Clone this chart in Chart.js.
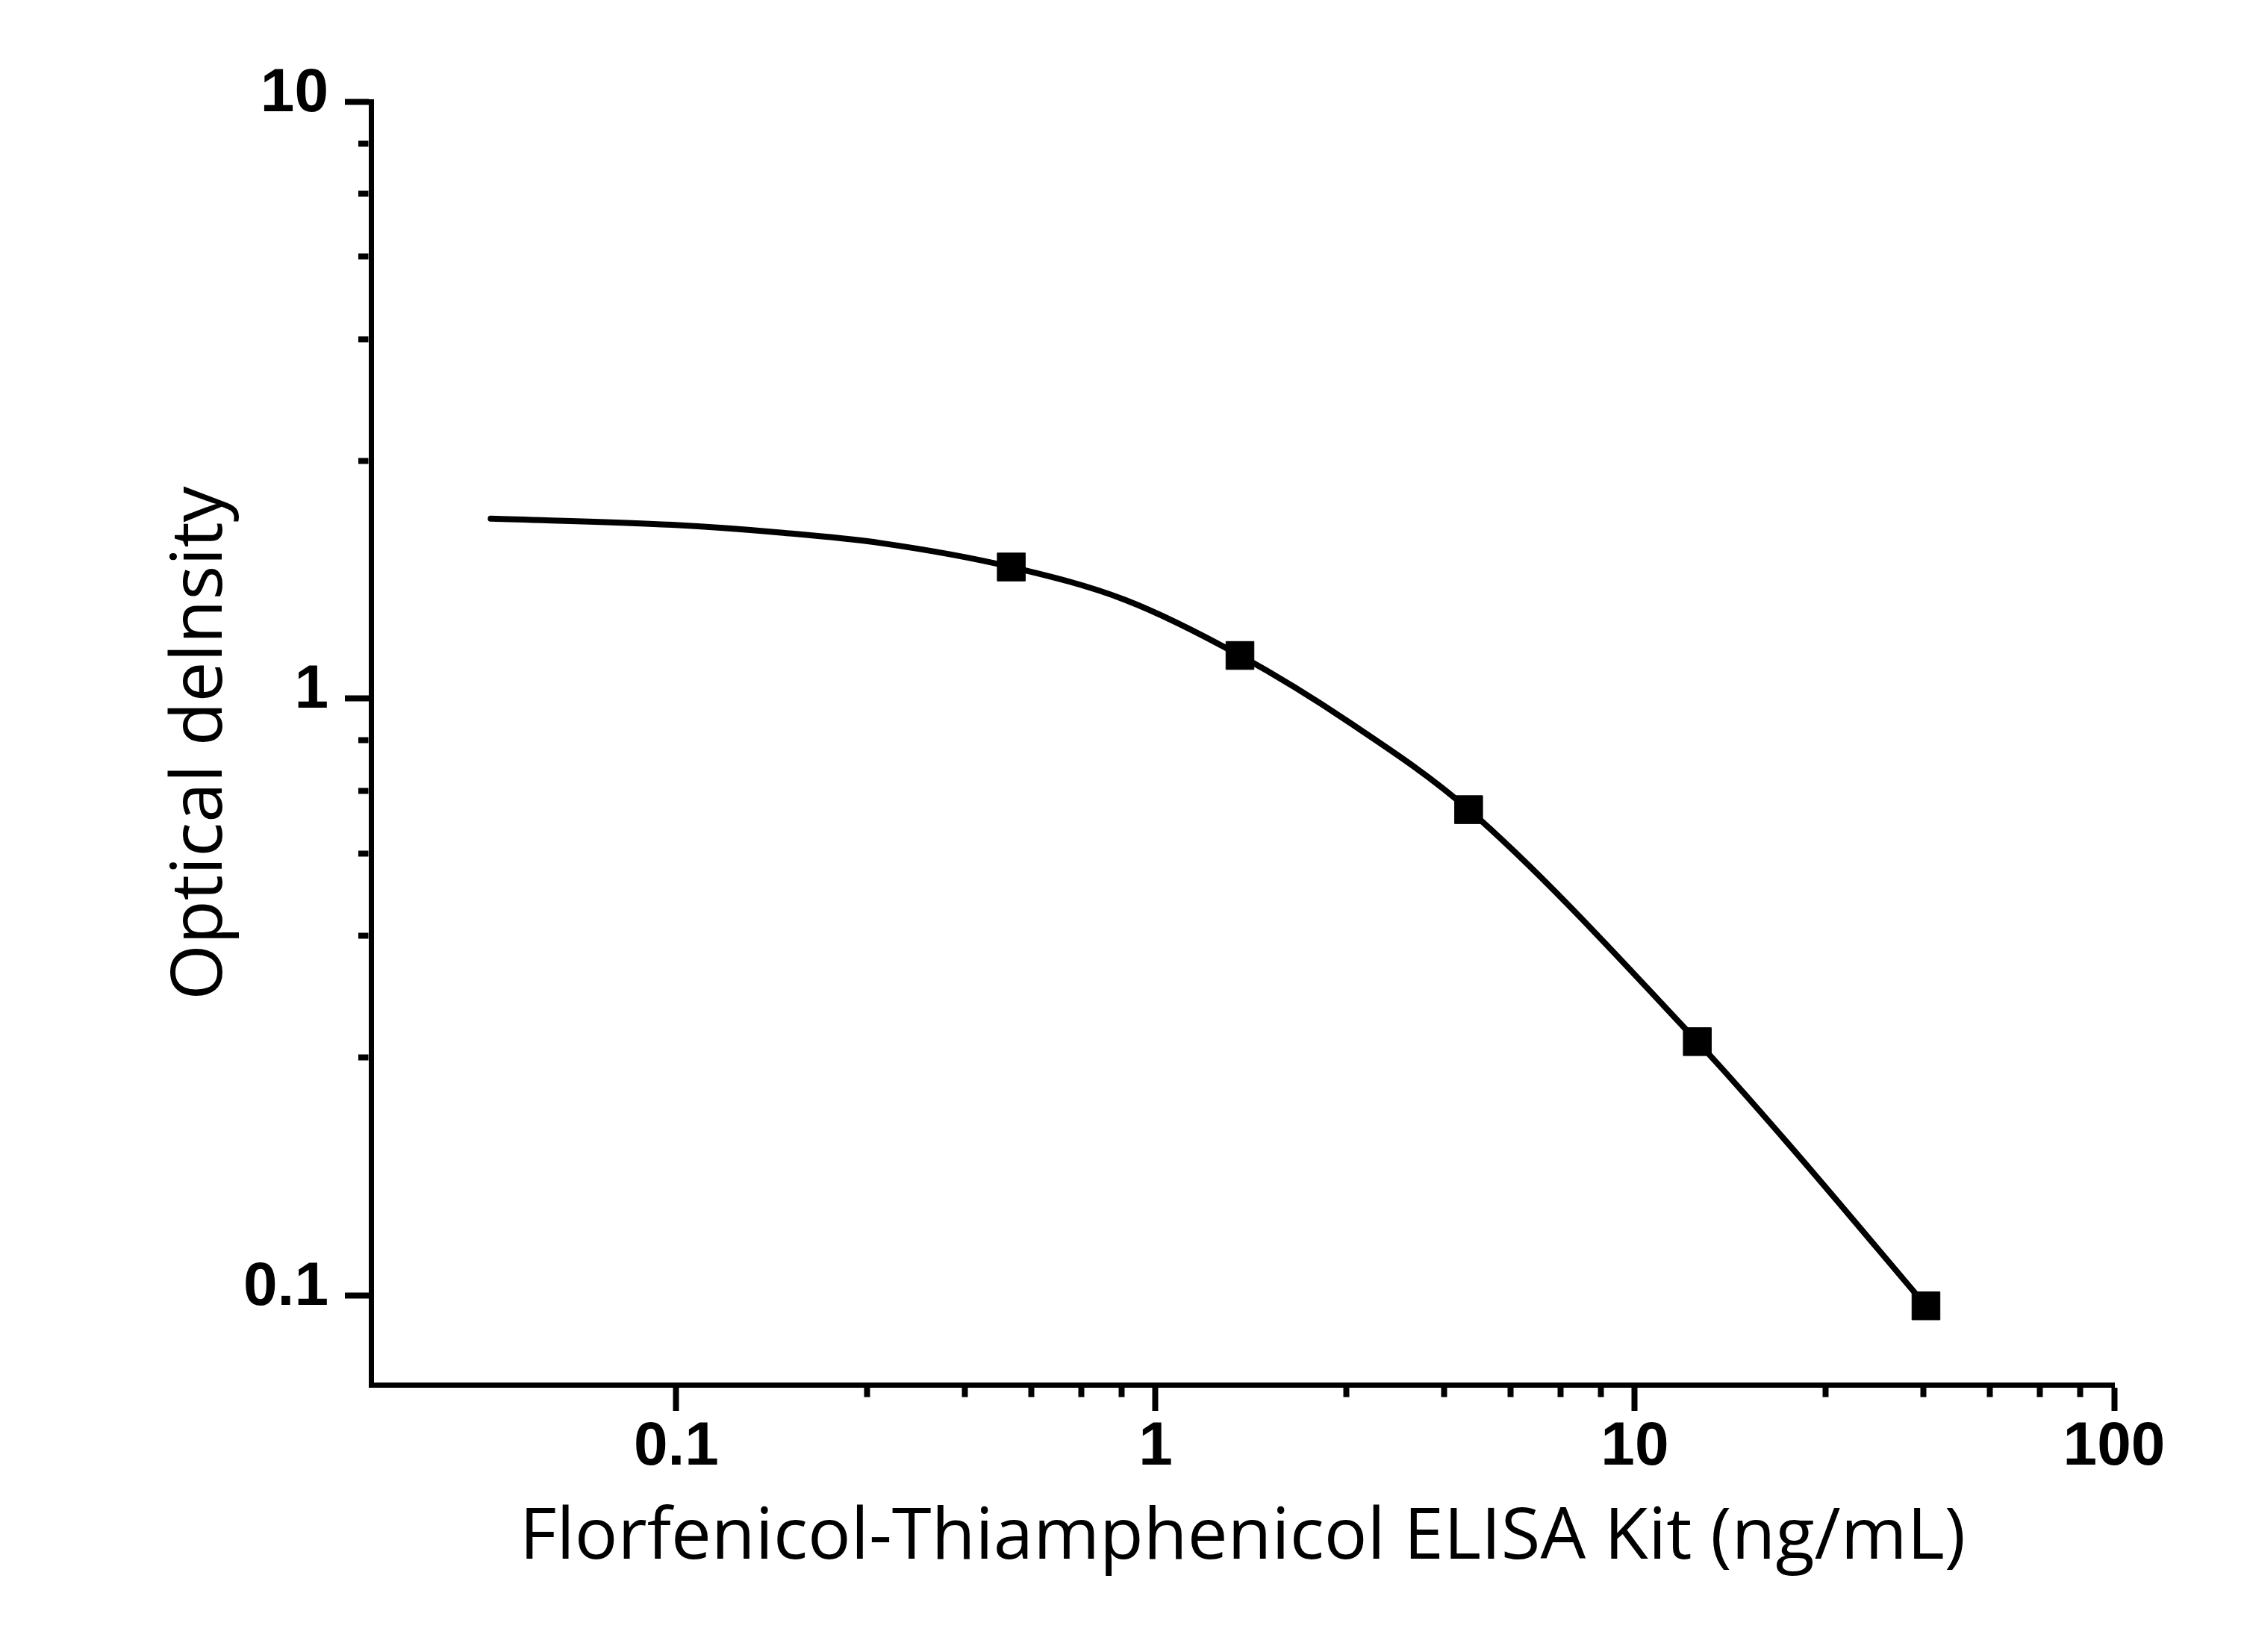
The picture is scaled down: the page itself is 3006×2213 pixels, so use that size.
<!DOCTYPE html>
<html lang="en">
<head>
  <meta charset="UTF-8">
  <title>Florfenicol-Thiamphenicol ELISA Kit standard curve</title>
  <script src="https://cdn.jsdelivr.net/npm/chart.js"></script>
  <style>
    html, body {
      margin: 0;
      padding: 0;
      background: #ffffff;
      overflow: hidden;
    }
    .container {
      width: 3006px;
      height: 2213px;
    }
  </style>
</head>
<body>
  <div class="container">
    <canvas id="curveChart"></canvas>
  </div>

  <script>
    // standards (ng/mL) and measured OD
    const concentrations = [0.5, 1.5, 4.5, 13.5, 40.5];
    const odValues = [1.66, 1.18, 0.651, 0.266, 0.096];

    // fitted curve
    const fitX = [0.041, 0.098, 0.167, 0.268, 0.5, 0.865, 1.5, 2.55, 4.5, 13.5, 20.7, 40.5];
    const fitY = [2.00, 1.953, 1.894, 1.82, 1.66, 1.462, 1.18, 0.909, 0.651, 0.266, 0.181, 0.096];

    const xDecades = [0.1, 1, 10, 100];
    const yDecades = [0.1, 1, 10];
    const minorSteps = [2.5, 4, 5.5, 7, 8.5];

    const xTitle = 'Florfenicol-Thiamphenicol ELISA Kit (ng/mL)';
    const yTitle = 'Optical delnsity';

    function isMajor(v) {
      const l = Math.log10(v);
      return Math.abs(l - Math.round(l)) < 1e-6;
    }

    function logTicks(decades) {
      let ticks = [];
      for (let i = 0; i < decades.length; i++) {
        ticks.push({ value: decades[i] });
        if (i < decades.length - 1) {
          minorSteps.forEach(s => ticks.push({ value: decades[i] * s }));
        }
      }
      return ticks;
    }

    const labelFont = { family: '"Liberation Sans", Arial, sans-serif', weight: 'bold', size: 82 };
    const titleFont = { family: '"Open Sans", sans-serif', size: 96, lineHeight: 1.2 };

    const ctx = document.getElementById('curveChart').getContext('2d');
    const chart = new Chart(ctx, {
      type: 'scatter',
      data: {
        datasets: [{
          label: 'fit',
          data: fitX.map((x, i) => ({ x: x, y: fitY[i] })),
          showLine: true,
          borderColor: '#000',
          borderWidth: 8,
          borderCapStyle: 'round',
          cubicInterpolationMode: 'monotone',
          pointRadius: 0,
          order: 2
        }, {
          label: 'standards',
          data: concentrations.map((x, i) => ({ x: x, y: odValues[i] })),
          showLine: false,
          pointStyle: 'rect',
          pointRadius: 26.5,
          backgroundColor: '#000',
          borderColor: '#000',
          borderWidth: 1,
          order: 1
        }]
      },
      options: {
        responsive: true,
        maintainAspectRatio: false,
        devicePixelRatio: 1,
        animation: false,
        layout: { padding: { top: 136, right: 174, bottom: 0, left: 0 } },
        plugins: {
          legend: { display: false },
          tooltip: { enabled: false }
        },
        scales: {
          x: {
            type: 'logarithmic',
            min: 0.02307,
            max: 100,
            afterBuildTicks: scale => { scale.ticks = logTicks(xDecades); },
            afterFit: scale => { scale.height = 358; },
            border: { display: true, color: '#000', width: 7 },
            grid: {
              drawOnChartArea: false,
              drawTicks: true,
              tickLength: 35,
              tickWidth: 8,
              tickColor: '#000',
              tickBorderDash: c => isMajor(c.tick.value) ? [] : [12.5, 100],
              tickBorderDashOffset: 0
            },
            ticks: {
              autoSkip: false,
              maxRotation: 0,
              padding: 0,
              color: '#000',
              font: labelFont,
              callback: v => isMajor(v) ? String(+v.toPrecision(3)) : ''
            },
            title: {
              display: true,
              text: xTitle,
              color: '#000',
              font: titleFont,
              padding: { top: 0, bottom: 95 }
            }
          },
          y: {
            type: 'logarithmic',
            min: 0.0708,
            max: 10,
            afterBuildTicks: scale => { scale.ticks = logTicks(yDecades); },
            afterFit: scale => { scale.width = 497; },
            border: { display: true, color: '#000', width: 7 },
            grid: {
              drawOnChartArea: false,
              drawTicks: true,
              tickLength: 35,
              tickWidth: 8,
              tickColor: '#000',
              tickBorderDash: c => isMajor(c.tick.value) ? [] : [13.5, 18],
              tickBorderDashOffset: c => isMajor(c.tick.value) ? 0 : 13.5
            },
            ticks: {
              autoSkip: false,
              padding: 22,
              labelOffset: -10,
              color: '#000',
              font: labelFont,
              callback: v => isMajor(v) ? String(+v.toPrecision(3)) : ''
            },
            title: {
              display: true,
              text: yTitle,
              color: '#000',
              font: titleFont,
              padding: { top: 212, bottom: 0 }
            }
          }
        }
      }
    });
  </script>
</body>
</html>
